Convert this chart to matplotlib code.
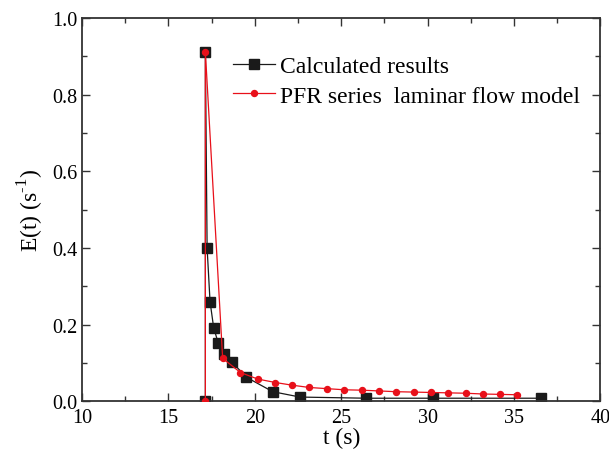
import matplotlib
matplotlib.use("Agg")
import matplotlib.pyplot as plt
from matplotlib.ticker import MultipleLocator

plt.rcParams['font.family'] = ['Liberation Serif', 'DejaVu Serif']
plt.rcParams['mathtext.fontset'] = 'custom'
plt.rcParams['mathtext.rm'] = 'Liberation Serif'

calc_t = [17.14, 17.14, 17.24, 17.41, 17.62, 17.89, 18.24, 18.67, 19.50, 21.04, 22.62, 26.46, 30.30, 36.58]
calc_e = [0.0, 0.911, 0.400, 0.260, 0.192, 0.151, 0.124, 0.103, 0.063, 0.025, 0.011, 0.008, 0.008, 0.008]

pfr_t = [17.14, 17.14, 18.14, 19.17, 20.17, 21.19, 22.16, 23.16, 24.17, 25.17, 26.18, 27.18,
         28.18, 29.19, 30.19, 31.20, 32.20, 33.20, 34.20, 35.19]
pfr_e = [0.0, 0.911, 0.112, 0.075, 0.058, 0.049, 0.042, 0.036, 0.033, 0.030, 0.029, 0.027,
         0.025, 0.024, 0.023, 0.022, 0.021, 0.019, 0.018, 0.017]

labels = ["Calculated results", "PFR series  laminar flow model"]

fig = plt.figure(figsize=(6.09, 4.56), dpi=100)
ax = fig.add_axes([0.1346, 0.1178, 0.8514, 0.8405])

ax.plot(calc_t, calc_e, color='#1a1a1a', lw=0.9, marker='s', ms=6.5,
        mfc='#1a1a1a', mec='#1a1a1a', label=labels[0], zorder=2)
ax.plot(pfr_t, pfr_e, color='#e8101a', lw=0.9, marker='o', ms=4.3,
        mfc='#e8101a', mec='#e8101a', label=labels[1], zorder=3)

ax.set_xlim(10, 40)
ax.set_ylim(0, 1.0)
ax.xaxis.set_major_locator(MultipleLocator(5))
ax.xaxis.set_minor_locator(MultipleLocator(2.5))
ax.yaxis.set_major_locator(MultipleLocator(0.2))
ax.yaxis.set_minor_locator(MultipleLocator(0.1))
ax.xaxis.set_major_formatter(plt.FuncFormatter(lambda v, p: f"{v:.0f}"))
ax.yaxis.set_major_formatter(plt.FuncFormatter(lambda v, p: f"{v:.1f}"))
ax.tick_params(which='both', direction='in', top=True, right=True, labelsize=14.5, color='#333333')
ax.tick_params(which='major', length=6, width=1)
ax.tick_params(which='minor', length=3.5, width=1)
ax.tick_params(axis='x', which='major', pad=5)
for s in ax.spines.values():
    s.set_linewidth(1.3)
    s.set_color('#333333')

ax.set_xlabel("t (s)", fontsize=17, labelpad=0)
ax.set_ylabel(r"E(t) (s$^{\text{-1}}$)", fontsize=17, labelpad=4)

ax.legend(loc='upper left', bbox_to_anchor=(0.273, 0.927), frameon=False, fontsize=17,
          handlelength=1.8, handletextpad=0.2, labelspacing=0.35, borderaxespad=0.0)

fig.savefig("out.png", dpi=100)
